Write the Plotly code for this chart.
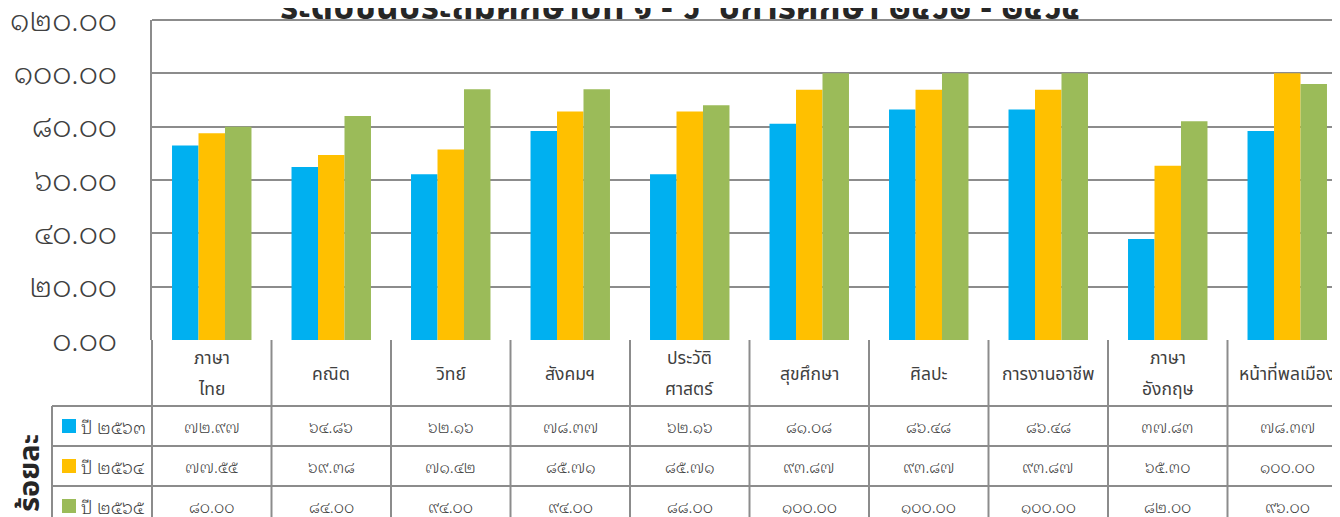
import plotly.graph_objects as go

categories = ["ภาษา<br>ไทย", "คณิต", "วิทย์", "สังคมฯ", "ประวัติ<br>ศาสตร์", "สุขศึกษา",
              "ศิลปะ", "การงานอาชีพ", "ภาษา<br>อังกฤษ", "หน้าที่พลเมือง"]
series_names = ["ปี ๒๕๖๓", "ปี ๒๕๖๔", "ปี ๒๕๖๕"]
values_2563 = [72.97, 64.86, 62.16, 78.37, 62.16, 81.08, 86.48, 86.48, 37.83, 78.37]
values_2564 = [77.55, 69.38, 71.42, 85.71, 85.71, 93.87, 93.87, 93.87, 65.30, 100.00]
values_2565 = [80.00, 84.00, 94.00, 94.00, 88.00, 100.00, 100.00, 100.00, 82.00, 96.00]
tick_values = [0, 20, 40, 60, 80, 100, 120]
title_text = "ระดับชั้นประถมศึกษาปีที่ ๑ - ๖\u00a0\u00a0ปีการศึกษา ๒๕๖๒ - ๒๕๖๔"
axis_title = "ร้อยละ"

colors = ["#00B0F0", "#FFC000", "#9BBB59"]
THAI = str.maketrans("0123456789", "๐๑๒๓๔๕๖๗๘๙")


def thai_num(v):
    return f"{v:.2f}".translate(THAI)


TXT_FONT = "Noto Sans Thai, Noto Sans Thai UI, Leelawadee UI, Tahoma, sans-serif"
NUM_FONT = "Noto Sans Thai Looped, Noto Sans Thai, Tahoma, sans-serif"
OFF = 8
W, H = 1340 - OFF, 517 - OFF
PAGE_L, PAGE_T, PAGE_B = 152, 20, 340
ML, MT = PAGE_L - OFF, PAGE_T - OFF
n = len(categories)
pw = W - ML
ph = PAGE_B - PAGE_T
xr = [-0.5, -0.5 + pw / 119.5]


def px_x(px):
    return (px - PAGE_L) / pw


def px_y(py):
    return (PAGE_B - py) / ph


def cat_paper(c):
    return (c - xr[0]) / (xr[1] - xr[0])


fig = go.Figure()
all_series = [values_2563, values_2564, values_2565]
for name, vals, col in zip(series_names, all_series, colors):
    fig.add_trace(go.Bar(x=list(range(n)), y=vals, name=name, marker_color=col,
                         marker_line_width=0))

grid_col = "#8c8c8c"
shapes = []
ann = []
line = dict(color=grid_col, width=2)

shapes.append(dict(type="line", xref="paper", yref="paper", x0=0, x1=1.02, y0=1, y1=1, line=line))

row_y = [340, 406, 446, 486, 540]
for y in row_y[1:4]:
    shapes.append(dict(type="line", xref="paper", yref="paper", x0=px_x(52), x1=1.02,
                       y0=px_y(y), y1=px_y(y), line=line))
for k in range(n + 1):
    xp = cat_paper(k - 0.5)
    shapes.append(dict(type="line", xref="paper", yref="paper", x0=xp, x1=xp,
                       y0=px_y(340), y1=px_y(540), line=line))
shapes.append(dict(type="line", xref="paper", yref="paper", x0=px_x(52), x1=px_x(52),
                   y0=px_y(406), y1=px_y(540), line=line))

txt_col = "#404040"
for i, c in enumerate(categories):
    parts = c.split("<br>")
    ys = [374] if len(parts) == 1 else [358, 389]
    for p, yy in zip(parts, ys):
        ann.append(dict(xref="paper", yref="paper", x=cat_paper(i), y=px_y(yy), text=p,
                        showarrow=False, font=dict(family=TXT_FONT, size=17.5, color=txt_col),
                        xanchor="center", yanchor="middle", align="center"))

row_centers = [426, 466, 506]
for r, vals in enumerate(all_series):
    yc = row_centers[r]
    for i, v in enumerate(vals):
        ann.append(dict(xref="paper", yref="paper", x=cat_paper(i), y=px_y(yc),
                        text=thai_num(v), showarrow=False,
                        font=dict(family=NUM_FONT, size=16, color=txt_col, weight=300),
                        xanchor="center", yanchor="middle"))
    shapes.append(dict(type="rect", xref="paper", yref="paper", x0=px_x(62), x1=px_x(76),
                       y0=px_y(yc - 7), y1=px_y(yc + 7), fillcolor=colors[r],
                       line=dict(width=0)))
    ann.append(dict(xref="paper", yref="paper", x=px_x(79), y=px_y(yc),
                    text=series_names[r], showarrow=False,
                    font=dict(family=NUM_FONT, size=18, color=txt_col, weight=300),
                    xanchor="left", yanchor="middle"))

ann.append(dict(xref="paper", yref="paper", x=px_x(30), y=px_y(473), text=f"<b>{axis_title}</b>",
                textangle=-90, showarrow=False, font=dict(family=TXT_FONT, size=29, color="#262626"),
                xanchor="center", yanchor="middle"))
ann.append(dict(xref="paper", yref="paper", x=px_x(680), y=px_y(37), text=f"<b>{title_text}</b>",
                showarrow=False, font=dict(family=TXT_FONT, size=35, color="#262626"),
                xanchor="center", yanchor="bottom"))

fig.update_layout(
    width=W, height=H, margin=dict(l=ML, r=0, t=MT, b=H - (PAGE_B - OFF), pad=0,
                                   autoexpand=False),
    paper_bgcolor="white", plot_bgcolor="white",
    barmode="group", bargap=0.335, bargroupgap=0,
    showlegend=False, shapes=shapes, annotations=ann,
    xaxis=dict(range=xr, showticklabels=False, showgrid=False, zeroline=False,
               showline=False, fixedrange=True, automargin=False),
    yaxis=dict(range=[0, 120], tickvals=tick_values,
               ticktext=[thai_num(v) for v in tick_values],
               tickfont=dict(family=NUM_FONT, size=30, color=txt_col, weight=300),
               showgrid=True, gridcolor=grid_col, gridwidth=2,
               zeroline=False, showline=True, linecolor=grid_col, linewidth=2,
               ticks="", ticklabelstandoff=27, ticklabeloverflow="allow",
               automargin=False, fixedrange=True),
)

fig.write_html("out.html", config={"displayModeBar": False})
